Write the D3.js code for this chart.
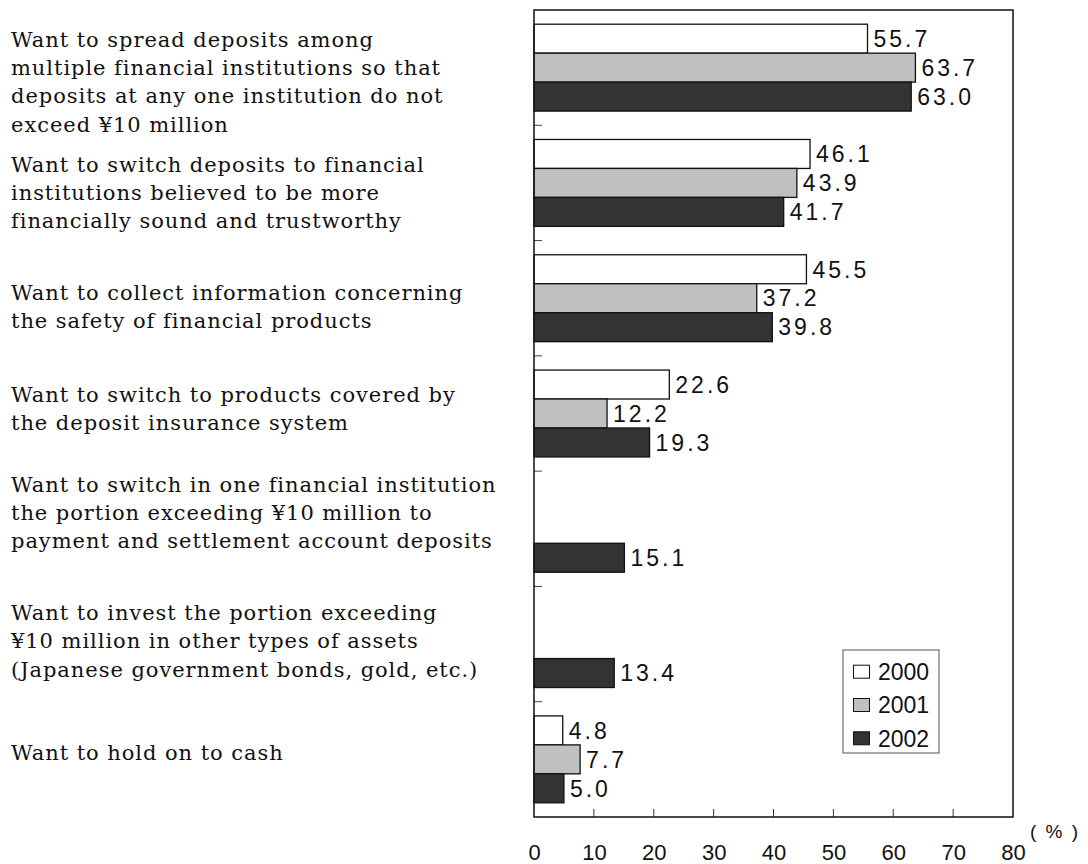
<!DOCTYPE html>
<html>
<head>
<meta charset="utf-8">
<script src="https://cdn.jsdelivr.net/npm/d3@7"></script>
<style>
  html, body { margin: 0; padding: 0; background: #fff; }
  svg { display: block; }
</style>
</head>
<body>
<svg id="chart" width="1088" height="864"></svg>
<script>
// Reasons for changing deposit behaviour (multiple answers, %)
const categories = [
  ["Want to spread deposits among", "multiple financial institutions so that", "deposits at any one institution do not", "exceed \u00a510 million"],
  ["Want to switch deposits to financial", "institutions believed to be more", "financially sound and trustworthy"],
  ["Want to collect information concerning", "the safety of financial products"],
  ["Want to switch to products covered by", "the deposit insurance system"],
  ["Want to switch in one financial institution", "the portion exceeding \u00a510 million to", "payment and settlement account deposits"],
  ["Want to invest the portion exceeding", "\u00a510 million in other types of assets", "(Japanese government bonds, gold, etc.)"],
  ["Want to hold on to cash"]
];
const seriesNames = ["2000", "2001", "2002"];
const values2000 = [55.7, 46.1, 45.5, 22.6, null, null, 4.8];
const values2001 = [63.7, 43.9, 37.2, 12.2, null, null, 7.7];
const values2002 = [63.0, 41.7, 39.8, 19.3, 15.1, 13.4, 5.0];
const xTickValues = [0, 10, 20, 30, 40, 50, 60, 70, 80];
const unitLabel = "(\u00a0%\u00a0)";

// ---- layout ----
const plot = { left: 534, right: 1013, top: 10, bottom: 817 };
const fills = { "2000": "#ffffff", "2001": "#c0c0c0", "2002": "#333333" };
// baseline of the first text line, measured from the top of each category band
const labelFirstBaseline = [36.7, 46.4, 59.4, 45.8, 20.6, 33.6, 58.3];
const labelLineHeight = 28.3;

const svg = d3.select("#chart");
const seriesValues = [values2000, values2001, values2002];

const x = d3.scaleLinear().domain([0, 80]).range([plot.left, plot.right]);
const y0 = d3.scaleBand().domain(d3.range(categories.length)).range([plot.top, plot.bottom]).padding(0);
const y1 = d3.scaleBand().domain(seriesNames).range([0, y0.bandwidth()]).paddingInner(0).paddingOuter(0.49);

// category labels
const labelG = svg.append("g")
  .attr("font-family", "'DejaVu Serif', serif")
  .attr("font-size", 21)
  .attr("letter-spacing", 0.95)
  .attr("fill", "#111");
categories.forEach((lines, i) => {
  const t = labelG.append("text").attr("x", 11).attr("y", y0(i) + labelFirstBaseline[i]);
  lines.forEach((ln, j) => {
    t.append("tspan").attr("x", 11).attr("y", y0(i) + labelFirstBaseline[i] + j * labelLineHeight).text(ln);
  });
});

// bars
const rows = [];
categories.forEach((c, i) => {
  seriesNames.forEach((s, k) => {
    const v = seriesValues[k][i];
    if (v !== null) rows.push({ cat: i, series: s, value: v });
  });
});

const bars = svg.append("g");
bars.selectAll("rect").data(rows).join("rect")
  .attr("x", x(0))
  .attr("y", d => y0(d.cat) + y1(d.series))
  .attr("width", d => x(d.value) - x(0))
  .attr("height", y1.bandwidth())
  .attr("fill", d => fills[d.series])
  .attr("stroke", "#111")
  .attr("stroke-width", 1.3);

// value labels
const fmt = d3.format(".1f");
svg.append("g")
  .attr("font-family", "'Liberation Sans', Arial, sans-serif")
  .attr("font-size", 23)
  .attr("letter-spacing", 3)
  .attr("fill", "#111")
  .selectAll("text").data(rows).join("text")
  .attr("x", d => x(d.value) + 6)
  .attr("y", d => y0(d.cat) + y1(d.series) + y1.bandwidth() / 2)
  .attr("dy", "0.36em")
  .text(d => fmt(d.value));

// inner category separators on the left axis
svg.append("g").selectAll("line").data(d3.range(1, categories.length)).join("line")
  .attr("x1", plot.left).attr("x2", plot.left + 8)
  .attr("y1", i => y0(i)).attr("y2", i => y0(i))
  .attr("stroke", "#444").attr("stroke-width", 1);

// x axis: ticks pointing up into the plot, labels below
const xAxis = d3.axisBottom(x).tickValues(xTickValues).tickSize(0).tickFormat(d3.format("d"));
const axG = svg.append("g").attr("transform", `translate(0,${plot.bottom})`).call(xAxis);
axG.select(".domain").remove();
axG.selectAll("text")
  .attr("font-family", "'Liberation Sans', Arial, sans-serif")
  .attr("font-size", 22)
  .attr("fill", "#111")
  .attr("y", 35)
  .attr("dy", "0.36em");
svg.append("g").selectAll("line").data(xTickValues.slice(1, -1)).join("line")
  .attr("x1", d => x(d)).attr("x2", d => x(d))
  .attr("y1", plot.bottom).attr("y2", plot.bottom - 8)
  .attr("stroke", "#333").attr("stroke-width", 1);

// plot frame
svg.append("rect")
  .attr("x", plot.left).attr("y", plot.top)
  .attr("width", plot.right - plot.left).attr("height", plot.bottom - plot.top)
  .attr("fill", "none").attr("stroke", "#111").attr("stroke-width", 1.5);

// unit label
svg.append("text")
  .attr("x", 1030).attr("y", 831).attr("dy", "0.36em")
  .attr("font-family", "'Liberation Sans', Arial, sans-serif")
  .attr("font-size", 19).attr("letter-spacing", 2).attr("fill", "#111")
  .text(unitLabel);

// legend
const legend = svg.append("g").attr("transform", "translate(843,650)");
legend.append("rect").attr("width", 96).attr("height", 103)
  .attr("fill", "#fff").attr("stroke", "#555").attr("stroke-width", 1);
const li = legend.selectAll("g").data(seriesNames).join("g")
  .attr("transform", (d, i) => `translate(0,${21.7 + i * 33.3})`);
li.append("rect").attr("x", 10.5).attr("y", -6.5).attr("width", 16).attr("height", 13)
  .attr("fill", d => fills[d]).attr("stroke", "#111").attr("stroke-width", 1);
li.append("text").attr("x", 35).attr("dy", "0.36em")
  .attr("font-family", "'Liberation Sans', Arial, sans-serif")
  .attr("font-size", 23).attr("fill", "#111")
  .text(d => d);
</script>
</body>
</html>
